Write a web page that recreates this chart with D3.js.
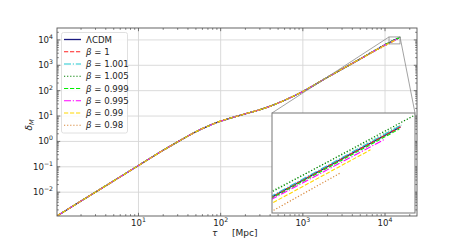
<!DOCTYPE html>
<html><head><meta charset="utf-8">
<script src="https://cdn.jsdelivr.net/npm/d3@7"></script>
<style>body{margin:0;background:#fff} text{font-family:"DejaVu Sans",sans-serif;fill:#222}</style>
</head><body><svg id="c" width="463" height="243"></svg>
<script>
// ---- data ----
const tauEarly   = [1.02, 2, 4, 10, 20, 33, 50, 70, 100, 150, 200, 300, 400, 600, 1000, 2000, 5000];
const deltaEarly = [0.00115, 0.00447, 0.0178, 0.112, 0.447, 1.15, 2.4, 4.0, 6.3, 9.4, 12.3, 17.8, 24.5, 42, 93, 339, 1780];
const seriesNames = ["ΛCDM", "1", "1.001", "1.005", "0.999", "0.995", "0.99", "0.98", "extra"];
const lateTau = [
  [11190, 14760], [11190, 14760], [11190, 14791], [11190, 15488], [11190, 14723],
  [11190, 14289], [11190, 13836], [11190, 12972], [11190, 14757]
];
const lateDelta = [
  [7709, 11995], [7709, 11995], [7762, 12134], [7962, 13274], [7656, 11830],
  [7603, 11117], [7413, 10375], [7047, 8974], [8020, 12134]
];
const xTickVals = [10, 100, 1000, 10000];
const xTickExp = ["1", "2", "3", "4"];
const yTickVals = [1e-2, 1e-1, 1, 10, 100, 1000, 10000];
const yTickExp = ["−2", "−1", "0", "1", "2", "3", "4"];
const xDomain = [1.02, 24500];
const yDomain = [0.00115, 29500];
const insetX = [11190, 15230];
const insetY = [6966, 13090];

// ---- styles ----
const styles = [
  {c: "#1a1a80", d: null, w: 1.3},
  {c: "#ff2020", d: "4.2,1.8", w: 1.1},
  {c: "#20c8d0", d: "7,1.8,1.2,1.8", w: 1.1},
  {c: "#008000", d: "1.2,1.9", w: 1.2},
  {c: "#00ee00", d: "4.2,1.8", w: 1.1},
  {c: "#ff00ff", d: "7,1.8,1.2,1.8", w: 1.1},
  {c: "#ffd700", d: "4.2,1.8", w: 1.1},
  {c: "#d8883a", d: "1.2,1.9", w: 1.2},
  {c: "#90d890", d: "1.2,1.9", w: 1.1}
];

const svg = d3.select("#c");
const L = 57, R = 417, T = 28, B = 216;
const x = d3.scaleLog().domain(xDomain).range([L, R]);
const y = d3.scaleLog().domain(yDomain).range([B, T]);

// grid
const g = svg.append("g");
xTickVals.forEach(v => g.append("line").attr("x1", x(v)).attr("x2", x(v)).attr("y1", T).attr("y2", B).attr("stroke", "#d6d6d6").attr("stroke-width", 0.9));
yTickVals.forEach(v => g.append("line").attr("x1", L).attr("x2", R).attr("y1", y(v)).attr("y2", y(v)).attr("stroke", "#d6d6d6").attr("stroke-width", 0.9));

// clip
svg.append("clipPath").attr("id", "cm").append("rect").attr("x", L).attr("y", T).attr("width", R - L).attr("height", B - T);

function pts(i) {
  const a = tauEarly.map((t, k) => [t, deltaEarly[k]]);
  lateTau[i].forEach((t, k) => a.push([t, lateDelta[i][k]]));
  return a;
}
const lineMain = d3.line().x(d => x(d[0])).y(d => y(d[1])).curve(d3.curveMonotoneX);
const gm = svg.append("g").attr("clip-path", "url(#cm)");
const order = [8, 0, 1, 2, 3, 4, 5, 6, 7];
order.forEach(i => {
  gm.append("path").attr("d", lineMain(pts(i))).attr("fill", "none")
    .attr("stroke", styles[i].c).attr("stroke-width", styles[i].w)
    .attr("stroke-dasharray", styles[i].d);
});

// ticks (inward, all sides)
const tk = svg.append("g").attr("stroke", "#444").attr("stroke-width", 0.7);
function minorVals(dom) {
  const out = [];
  for (let e = Math.floor(Math.log10(dom[0])); e <= Math.ceil(Math.log10(dom[1])); e++)
    for (let m = 2; m <= 9; m++) { const v = m * Math.pow(10, e); if (v > dom[0] && v < dom[1]) out.push(v); }
  return out;
}
xTickVals.forEach(v => { tk.append("line").attr("x1", x(v)).attr("x2", x(v)).attr("y1", B).attr("y2", B - 3.2);
  tk.append("line").attr("x1", x(v)).attr("x2", x(v)).attr("y1", T).attr("y2", T + 3.2); });
minorVals(xDomain).forEach(v => { tk.append("line").attr("x1", x(v)).attr("x2", x(v)).attr("y1", B).attr("y2", B - 1.8);
  tk.append("line").attr("x1", x(v)).attr("x2", x(v)).attr("y1", T).attr("y2", T + 1.8); });
yTickVals.forEach(v => { tk.append("line").attr("x1", L).attr("x2", L + 3.2).attr("y1", y(v)).attr("y2", y(v));
  tk.append("line").attr("x1", R).attr("x2", R - 3.2).attr("y1", y(v)).attr("y2", y(v)); });
minorVals(yDomain).forEach(v => { tk.append("line").attr("x1", L).attr("x2", L + 1.8).attr("y1", y(v)).attr("y2", y(v));
  tk.append("line").attr("x1", R).attr("x2", R - 1.8).attr("y1", y(v)).attr("y2", y(v)); });

// tick labels
const fs = 8.6;
xTickVals.forEach((v, k) => {
  const t = svg.append("text").attr("x", x(v)).attr("y", 226).attr("text-anchor", "middle").attr("font-size", fs);
  t.append("tspan").text("10");
  t.append("tspan").attr("dy", -4).attr("font-size", 6.2).text(xTickExp[k]);
});
yTickVals.forEach((v, k) => {
  const t = svg.append("text").attr("x", 53).attr("y", y(v) + 3).attr("text-anchor", "end").attr("font-size", fs);
  t.append("tspan").text("10");
  t.append("tspan").attr("dy", -4).attr("font-size", 6.2).text(yTickExp[k]);
});

// axis labels
const xl = svg.append("text").attr("y", 236).attr("font-size", 9);
xl.append("tspan").attr("x", 212).attr("font-style", "italic").text("τ");
xl.append("tspan").attr("x", 232).text("[Mpc]");
const yl = svg.append("text").attr("transform", "translate(32,125) rotate(-90)").attr("text-anchor", "middle").attr("font-size", 9);
yl.append("tspan").attr("font-style", "italic").text("δ");
yl.append("tspan").attr("font-size", 6.5).attr("dy", 2).attr("font-style", "italic").text("M");

// inset
const IL = 272, IR = 415, IT = 113, IB = 213;
const xi = d3.scaleLog().domain(insetX).range([IL, IR]);
const yi = d3.scaleLog().domain(insetY).range([IB, IT]);
// zoom rectangle & connectors
const rx0 = x(insetX[0]), rx1 = x(insetX[1]), ry0 = y(insetY[1]), ry1 = y(insetY[0]);
const cg = svg.append("g").attr("stroke", "#8a8a8a").attr("stroke-width", 0.8).attr("fill", "none");
cg.append("rect").attr("x", rx0).attr("y", ry0).attr("width", rx1 - rx0).attr("height", ry1 - ry0);
cg.append("line").attr("x1", rx0).attr("y1", ry0).attr("x2", IL).attr("y2", IT);
cg.append("line").attr("x1", rx1).attr("y1", ry0).attr("x2", IR).attr("y2", IT);

svg.append("rect").attr("x", IL).attr("y", IT).attr("width", IR - IL).attr("height", IB - IT).attr("fill", "#fff");
svg.append("clipPath").attr("id", "ci").append("rect").attr("x", IL).attr("y", IT).attr("width", IR - IL).attr("height", IB - IT);
const lineIn = d3.line().x(d => xi(d[0])).y(d => yi(d[1]));
const gi = svg.append("g").attr("clip-path", "url(#ci)");
[8, 0, 1, 2, 3, 4, 5, 6, 7].forEach(i => {
  gi.append("path").attr("d", lineIn(pts(i))).attr("fill", "none")
    .attr("stroke", styles[i].c).attr("stroke-width", styles[i].w)
    .attr("stroke-dasharray", styles[i].d);
});
svg.append("rect").attr("x", IL).attr("y", IT).attr("width", IR - IL).attr("height", IB - IT)
  .attr("fill", "none").attr("stroke", "#777").attr("stroke-width", 1);

// main frame
svg.append("rect").attr("x", L).attr("y", T).attr("width", R - L).attr("height", B - T)
  .attr("fill", "none").attr("stroke", "#555").attr("stroke-width", 0.9);

// legend
const lg = svg.append("g");
lg.append("rect").attr("x", 61.5).attr("y", 32.5).attr("width", 66).attr("height", 100.5).attr("rx", 2)
  .attr("fill", "#fff").attr("fill-opacity", 0.85).attr("stroke", "#d8d8d8").attr("stroke-width", 0.8);
for (let i = 0; i < 8; i++) {
  const yy = 39.5 + i * 12.25;
  lg.append("line").attr("x1", 64).attr("x2", 81).attr("y1", yy).attr("y2", yy)
    .attr("stroke", styles[i].c).attr("stroke-width", styles[i].w).attr("stroke-dasharray", styles[i].d);
  const t = lg.append("text").attr("x", 86).attr("y", yy + 3.2).attr("font-size", 8.6);
  if (i === 0) t.text(seriesNames[0]);
  else {
    t.append("tspan").attr("font-style", "italic").text("β");
    t.append("tspan").text(" = " + seriesNames[i]);
  }
}
</script></body></html>
